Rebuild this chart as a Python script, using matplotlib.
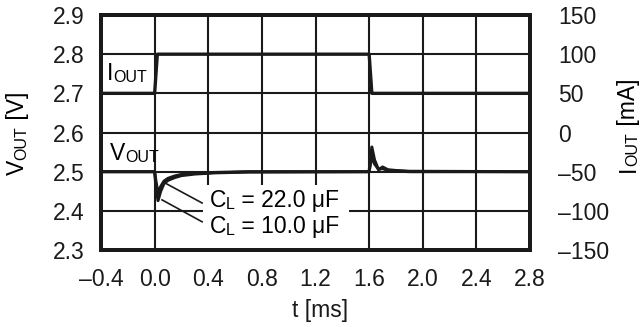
import matplotlib.pyplot as plt
import numpy as np
from matplotlib.patches import Rectangle

plt.rcParams['font.family'] = ['Liberation Sans', 'DejaVu Sans']

# time axis [ms]
t_vout = [-0.4, 0.0, 0.01, 0.025, 0.045, 0.07, 0.1, 0.15, 0.2, 0.3, 0.45, 0.7, 1.6,
          1.605, 1.62, 1.64, 1.67, 1.7, 1.74, 1.8, 1.9, 2.8]
# VOUT for CL = 10 uF and 22 uF [V]
vout_10 = [2.5, 2.5, 2.46, 2.426, 2.45, 2.47, 2.478, 2.485, 2.49, 2.494, 2.497, 2.499, 2.5,
           2.52, 2.563, 2.53, 2.505, 2.512, 2.505, 2.503, 2.501, 2.5]
vout_22 = [2.5, 2.5, 2.475, 2.445, 2.462, 2.476, 2.483, 2.489, 2.493, 2.496, 2.498, 2.5, 2.5,
           2.51, 2.54, 2.52, 2.506, 2.508, 2.503, 2.502, 2.5, 2.5]

t_iout = [-0.4, 0.0, 0.02, 1.6, 1.62, 2.8]
iout = [50, 50, 100, 100, 50, 50]  # [mA]

xticks = [-0.4, 0.0, 0.4, 0.8, 1.2, 1.6, 2.0, 2.4, 2.8]
xticklabels = ['\u20130.4', '0.0', '0.4', '0.8', '1.2', '1.6', '2.0', '2.4', '2.8']
yticks = [2.3, 2.4, 2.5, 2.6, 2.7, 2.8, 2.9]
y2ticks = [-150, -100, -50, 0, 50, 100, 150]
y2ticklabels = ['\u2013150', '\u2013100', '\u201350', '0', '50', '100', '150']

FS = 16.5
SMALL = 11.5


def parts_text(ax, x, y, parts, transform, rotation=0):
    # text made of pieces with different sizes (small caps style)
    s, size = parts[0]
    if rotation == 0:
        t = ax.text(x, y, s, fontsize=size, transform=transform,
                    ha='left', va='bottom')
    else:
        t = ax.text(x, y, s, fontsize=size, transform=transform,
                    ha='right', va='bottom', rotation=90)
    for s, size in parts[1:]:
        if rotation == 0:
            t = ax.annotate(s, xy=(1, 0), xycoords=t, fontsize=size,
                            ha='left', va='bottom', annotation_clip=False)
        else:
            t = ax.annotate(s, xy=(1, 1), xycoords=t, fontsize=size,
                            ha='right', va='bottom', rotation=90, annotation_clip=False)
    return t


fig = plt.figure(figsize=(6.41, 3.27), dpi=100)
ax = fig.add_axes([0.1576, 0.2355, 0.6693, 0.7185])
ax2 = ax.twinx()

ax.set_xlim(-0.4, 2.8)
ax.set_ylim(2.3, 2.9)
ax2.set_ylim(-150, 150)
ax.set_xticks(xticks)
ax.set_xticklabels(xticklabels)
ax.set_yticks(yticks)
ax2.set_yticks(y2ticks)
ax2.set_yticklabels(y2ticklabels)

ax.grid(True, color='#1a1a1a', linewidth=1.5)
ax.set_axisbelow(True)
ax.tick_params(length=0, labelsize=FS, pad=12, colors='#1a1a1a')
ax.tick_params(axis='x', pad=13)
ax2.tick_params(length=0, labelsize=FS, pad=20, colors='#1a1a1a')
for a in (ax, ax2):
    for sp in a.spines.values():
        sp.set_linewidth(2.8)
        sp.set_color('#1a1a1a')

# white box behind the CL labels
ax.add_patch(Rectangle((0.36, 2.3), 1.09, 0.166, facecolor='white', edgecolor='none', zorder=1.5))

ax.plot(t_vout, vout_22, color='#1a1a1a', linewidth=2.2, zorder=3)
ax.plot(t_vout, vout_10, color='#1a1a1a', linewidth=2.2, zorder=3)
ax2.plot(t_iout, iout, color='#1a1a1a', linewidth=2.4, zorder=3)

# leader lines
ax.plot([0.078, 0.354], [2.471, 2.42], color='#1a1a1a', linewidth=1.2, zorder=3)
ax.plot([0.055, 0.354], [2.428, 2.372], color='#1a1a1a', linewidth=1.2, zorder=3)

parts_text(ax, -0.357, 2.722, [('I', FS), ('OUT', SMALL)], ax.transData)
parts_text(ax, -0.335, 2.518, [('V', FS), ('OUT', SMALL)], ax.transData)
parts_text(ax, 0.41, 2.398, [('C', FS), ('L', SMALL), (' = 22.0 \u03bcF', FS)], ax.transData)
parts_text(ax, 0.41, 2.33, [('C', FS), ('L', SMALL), (' = 10.0 \u03bcF', FS)], ax.transData)

fig.text(0.5, 0.05, 't [ms]', fontsize=FS, ha='center', va='center', color='#1a1a1a')
parts_text(ax2, 0.045, 0.465, [('V', FS), ('OUT', SMALL), (' [V]', FS)], fig.transFigure, rotation=90)
parts_text(ax2, 0.999, 0.474, [('I', FS), ('OUT', SMALL), (' [mA]', FS)], fig.transFigure, rotation=90)

fig.savefig('out.png', dpi=100)
